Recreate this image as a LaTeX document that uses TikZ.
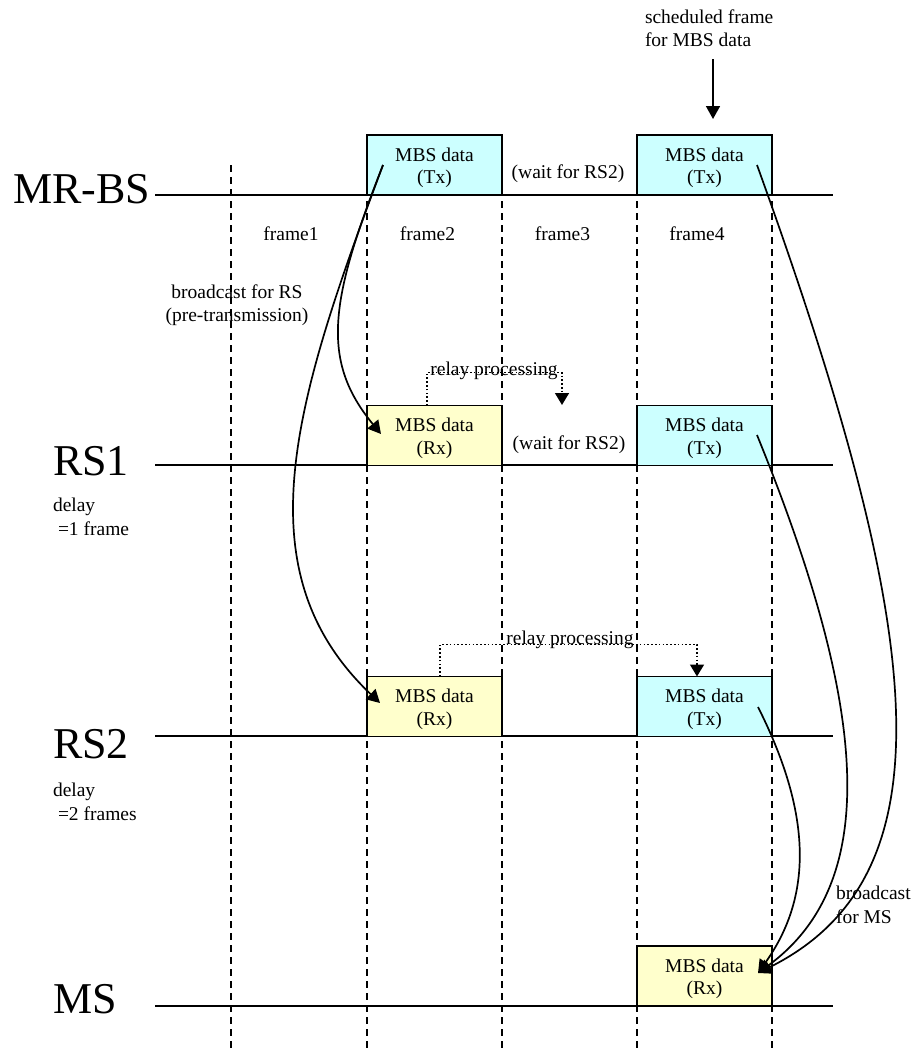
\documentclass[tikz,border=0pt]{standalone}
\usepackage{fontspec}
\setmainfont{Liberation Serif}
\usetikzlibrary{arrows.meta}
\definecolor{txfill}{HTML}{CCFFFF}
\definecolor{rxfill}{HTML}{FFFFCC}
\begin{document}
\begin{tikzpicture}[x=1pt,y=-1pt,
  every node/.style={font=\fontsize{19.5}{23.5}\selectfont, inner sep=0pt, outer sep=0pt},
  big/.style={font=\fontsize{44}{50}\selectfont, anchor=base west},
  tl/.style={line width=1.8pt},
  grid/.style={line width=1.4pt, dash pattern=on 7pt off 5pt},
  txbox/.style={draw, line width=1.8pt, fill=txfill, minimum width=135pt, minimum height=60pt},
  rxbox/.style={txbox, fill=rxfill},
  boxtext/.style={align=center, font=\fontsize{19.5}{22.5}\selectfont},
  flow/.style={line width=1.7pt, -{Triangle[length=13pt,width=14pt]}},
  relay/.style={line width=1.5pt, dash pattern=on 1.6pt off 2.2pt, -{Triangle[length=12pt,width=14pt]}},
  lbl/.style={anchor=base},
]
\useasboundingbox (0,0) rectangle (912,1053);

% vertical frame boundaries
\foreach \gx in {231,367,502,637,772} \draw[grid] (\gx,165) -- (\gx,1053);

% timelines
\draw[tl] (155,195) -- (833,195);
\draw[tl] (155,465) -- (833,465);
\draw[tl] (155,736) -- (833,736);
\draw[tl] (155,1006) -- (833,1006);

% station labels
\node[big] (lbs) at (13,203) {MR-BS};
\node[big] (lrs1) at (53,475) {RS1};
\node[big] (lrs2) at (53,758) {RS2};
\node[big] (lms) at (53,1013) {MS};

\node[align=left, anchor=west] (d1) at (53,517) {delay\\\hspace*{5pt}=1 frame};
\node[align=left, anchor=west] (d2) at (53,802) {delay\\\hspace*{5pt}=2 frames};

% boxes
\node[txbox] (bsTx1) at (434.5,165) {};
\node[txbox] (bsTx2) at (704.5,165) {};
\node[rxbox] (rs1Rx) at (434.5,435.5) {};
\node[txbox] (rs1Tx) at (704.5,435.5) {};
\node[rxbox] (rs2Rx) at (434.5,706.5) {};
\node[txbox] (rs2Tx) at (704.5,706.5) {};
\node[rxbox] (msRx) at (704.5,976) {};

\node[boxtext] (t1) at ([yshift=-3pt]bsTx1.center) {MBS data\\(Tx)};
\node[boxtext] (t2) at ([yshift=-3pt]bsTx2.center) {MBS data\\(Tx)};
\node[boxtext] (t3) at ([yshift=-3pt]rs1Rx.center) {MBS data\\(Rx)};
\node[boxtext] (t4) at ([yshift=-3pt]rs1Tx.center) {MBS data\\(Tx)};
\node[boxtext] (t5) at ([yshift=-3pt]rs2Rx.center) {MBS data\\(Rx)};
\node[boxtext] (t6) at ([yshift=-3pt]rs2Tx.center) {MBS data\\(Tx)};
\node[boxtext] (t7) at ([yshift=-3pt]msRx.center) {MBS data\\(Rx)};

% frame labels
\node[lbl] (f1) at (291,240) {frame1};
\node[lbl] (f2) at (427.5,240) {frame2};
\node[lbl] (f3) at (562.5,240) {frame3};
\node[lbl] (f4) at (697,240) {frame4};

\node[lbl] (w1) at (568,178) {(wait for RS2)};
\node[lbl] (w2) at (569,449) {(wait for RS2)};

\node[align=center] (bcrs) at (237,305.2) {broadcast for RS\\(pre-transmission)};
\node[align=left, anchor=west] (sched) at (645,28.4) {scheduled frame\\for MBS data};
\node[align=left, anchor=west] (bcms) at (836,905) {broadcast\\for MS};

% scheduled arrow
\coordinate (schedtip) at (713,119);
\draw[flow] (sched.south -| schedtip) ++(0,12) -- (schedtip);

% relay processing
\coordinate (r1end) at (562,405);
\draw[relay] ([xshift=-7.5pt]rs1Rx.north) -- ++(0,-33) -| (r1end);
\node[lbl] (rp1) at (494,375) {relay processing};
\draw[relay] ([xshift=5.5pt]rs2Rx.north) -- ++(0,-32) -| ([xshift=-7.5pt]rs2Tx.north);
\node[lbl] (rp2) at (570,644) {relay processing};

% broadcast curves from MR-BS to RSs
\coordinate (a0) at (383,165);
\coordinate (atipA) at (381,434);
\coordinate (atipB) at (380,703);
\draw[flow] (a0) .. controls (330,300) and (320,360) .. (atipA);
\draw[flow] (a0) .. controls (295,400) and (240,570) .. (atipB);

% broadcast curves to MS
\coordinate (c0) at (757,165);
\coordinate (d0) at (757,435);
\coordinate (e0) at (758,707);
\coordinate (mstip) at (758,973);
\draw[flow] (c0) .. controls (925,630) and (955,875) .. (mstip);
\draw[flow] (d0) .. controls (865,700) and (885,880) .. (mstip);
\draw[flow] (e0) .. controls (815,820) and (810,900) .. (mstip);
\end{tikzpicture}
\end{document}
